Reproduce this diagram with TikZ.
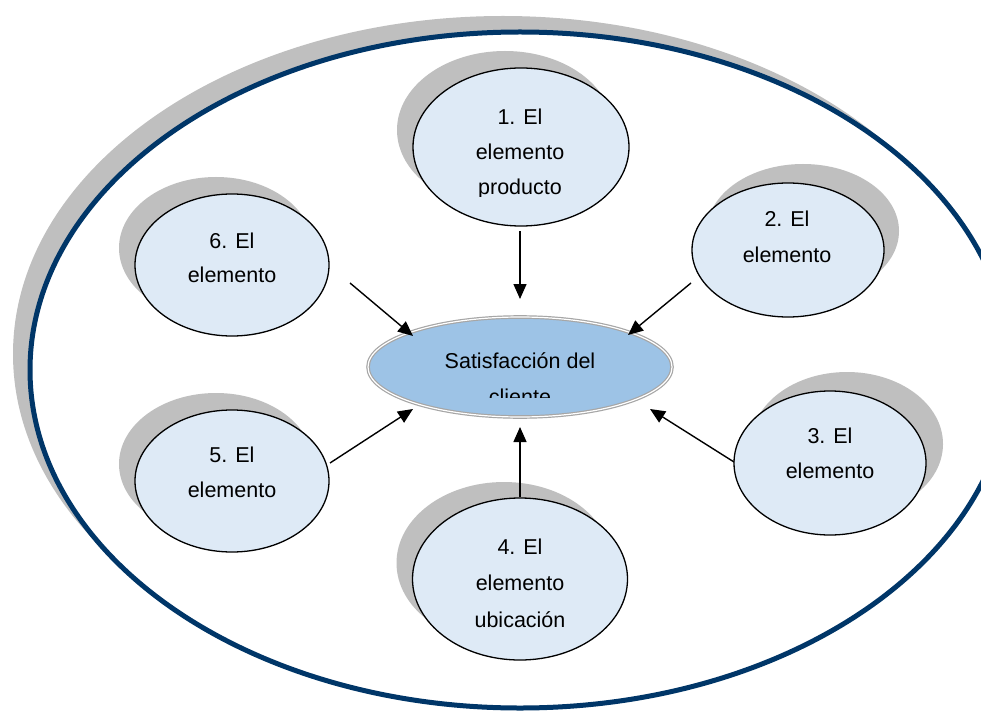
\documentclass[tikz,border=0pt]{standalone}
\usepackage{fontspec}
\setmainfont{Liberation Sans}
\usetikzlibrary{shapes.geometric,arrows.meta}
\definecolor{shadowgray}{RGB}{191,191,191}
\definecolor{navy}{RGB}{0,54,104}
\definecolor{paleblue}{RGB}{222,234,246}
\definecolor{midblue}{RGB}{157,195,230}
\definecolor{rimgray}{RGB}{166,166,166}
\tikzset{
  ell/.style={ellipse, inner sep=0pt, outer sep=0pt},
  shadowell/.style={ell, fill=shadowgray},
  elem/.style={ell, fill=paleblue, draw=black, line width=1.3pt},
  lbl/.style={anchor=base, inner sep=0pt, font=\fontsize{21.5}{25}\selectfont},
  arr/.style={line width=1.4pt, -{Triangle[length=15pt,width=13pt]}}
}
\begin{document}
\begin{tikzpicture}[x=1pt,y=-1pt]
\useasboundingbox (0,0) rectangle (981,711);
% outer frame
\node[shadowell, minimum width=980pt, minimum height=676pt] (outershadow) at (503,354) {};
\node[ell, fill=white, draw=navy, line width=5pt, minimum width=980pt, minimum height=676pt] (outer) at (520,370) {};
% element shadows
\node[shadowell, minimum width=216pt, minimum height=158pt] (s1) at (505,130) {};
\node[shadowell, minimum width=192pt, minimum height=134pt] (s2) at (803,231) {};
\node[shadowell, minimum width=192pt, minimum height=144pt] (s3) at (847,444) {};
\node[shadowell, minimum width=215pt, minimum height=162pt] (s4) at (504,563) {};
\node[shadowell, minimum width=194pt, minimum height=142pt] (s5) at (216,464) {};
\node[shadowell, minimum width=194pt, minimum height=142pt] (s6) at (216,248) {};
% elements
\node[elem, minimum width=216pt, minimum height=158pt] (n1) at (521,147) {};
\node[elem, minimum width=192pt, minimum height=134pt] (n2) at (788,250) {};
\node[elem, minimum width=192pt, minimum height=144pt] (n3) at (830,463) {};
\node[elem, minimum width=215pt, minimum height=162pt] (n4) at (520,579) {};
\node[elem, minimum width=194pt, minimum height=142pt] (n5) at (232,481) {};
\node[elem, minimum width=194pt, minimum height=142pt] (n6) at (232,265) {};
% centre
\node[ell, fill=midblue, draw=rimgray, line width=1.2pt, double=white, double distance=1.2pt,
      minimum width=304pt, minimum height=100pt] (c) at (520,367) {};
% connector end points
\coordinate (a1s) at (520,231); \coordinate (a1e) at (520,299);
\coordinate (a2s) at (691,283); \coordinate (a2e) at (628,335);
\coordinate (a3s) at (734,462); \coordinate (a3e) at (650,409);
\coordinate (a4s) at (520,497); \coordinate (a4e) at (520,427);
\coordinate (a5s) at (330,463); \coordinate (a5e) at (413,409);
\coordinate (a6s) at (350,283); \coordinate (a6e) at (413,336);
\draw[arr] (a1s) -- (a1e);
\draw[arr] (a2s) -- (a2e);
\draw[arr] (a3s) -- (a3e);
\draw[arr] (a4s) -- (a4e);
\draw[arr] (a5s) -- (a5e);
\draw[arr] (a6s) -- (a6e);
% labels
\node[lbl] (t1a) at (520,125) {1. El};
\node[lbl] (t1b) at (520,160) {elemento};
\begin{scope}
\clip (420,170) rectangle (620,196.5);
\node[lbl] (t1c) at (520,195) {producto};
\end{scope}
\node[lbl] (t2a) at (787,226) {2. El};
\node[lbl] (t2b) at (787,262) {elemento};
\node[lbl] (t3a) at (830,443) {3. El};
\node[lbl] (t3b) at (830,478) {elemento};
\node[lbl] (t4a) at (520,554) {4. El};
\node[lbl] (t4b) at (520,590) {elemento};
\node[lbl] (t4c) at (520,627) {ubicación};
\node[lbl] (t5a) at (232,462) {5. El};
\node[lbl] (t5b) at (232,497) {elemento};
\node[lbl] (t6a) at (232,248) {6. El};
\node[lbl] (t6b) at (232,282) {elemento};
\node[lbl] (tca) at (520,368) {Satisfacción del};
\begin{scope}
\clip (420,380) rectangle (620,397);
\node[lbl] (tcb) at (520,404) {cliente};
\end{scope}
\end{tikzpicture}
\end{document}
